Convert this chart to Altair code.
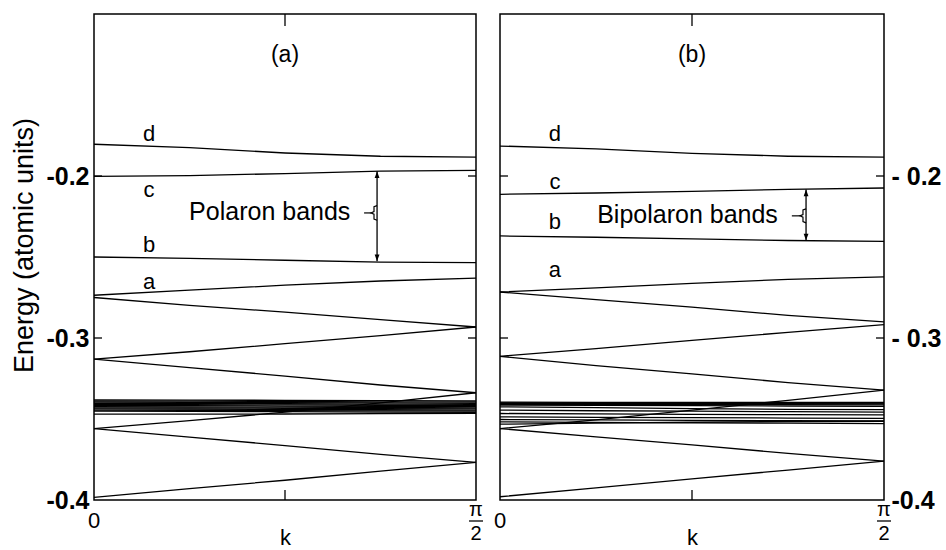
import math
import altair as alt
import pandas as pd

HALF_PI = math.pi / 2
K_FRAC = [0.0, 0.25, 0.5, 0.75, 1.0]          # fraction of pi/2

# ---------------- panel (a): polaron ----------------
A_D = [-0.1804, -0.1825, -0.1858, -0.1878, -0.1884]
A_C = [-0.2002, -0.1998, -0.1985, -0.1970, -0.1965]
A_B = [-0.2500, -0.2508, -0.2520, -0.2532, -0.2535]
A_A = [-0.2736, -0.2705, -0.2674, -0.2648, -0.2630]
A_V1 = [-0.2750, -0.2799, -0.2840, -0.2887, -0.2932]
A_V2 = [-0.3131, -0.3085, -0.3035, -0.2985, -0.2932]
A_V3 = [-0.3131, -0.3183, -0.3235, -0.3290, -0.3338]
A_V4 = [-0.3559, -0.3510, -0.3458, -0.3400, -0.3338]
A_V5 = [-0.3559, -0.3612, -0.3664, -0.3718, -0.3768]
A_V6 = [-0.3984, -0.3930, -0.3878, -0.3822, -0.3768]
A_CORE = [
    [-0.3382, -0.3383, -0.3385, -0.3387, -0.3389],
    [-0.3389, -0.3390, -0.3392, -0.3394, -0.3396],
    [-0.3396, -0.3397, -0.3399, -0.3401, -0.3403],
    [-0.3403, -0.3404, -0.3406, -0.3408, -0.3410],
    [-0.3410, -0.3411, -0.3413, -0.3415, -0.3417],
    [-0.3417, -0.3418, -0.3420, -0.3422, -0.3424],
    [-0.3424, -0.3425, -0.3427, -0.3429, -0.3431],
    [-0.3431, -0.3432, -0.3434, -0.3436, -0.3438],
    [-0.3438, -0.3439, -0.3441, -0.3443, -0.3445],
    [-0.3445, -0.3446, -0.3448, -0.3450, -0.3452],
    [-0.3452, -0.3453, -0.3455, -0.3457, -0.3459],
    [-0.3470, -0.3470, -0.3469, -0.3467, -0.3465],
]
A_LETTERS = ["d", "c", "b", "a"]
A_LETTER_K = [0.144, 0.144, 0.144, 0.144]
A_LETTER_E = [-0.1741, -0.2086, -0.2426, -0.2654]
A_NOTE = "Polaron  bands"
A_NOTE_K, A_NOTE_E = 0.249, -0.2222
A_ARROW = [0.741, -0.1971, -0.2526]            # k fraction, top, bottom
# brace beside the arrow, then the short dash pointing to the text
A_BRACE_K = [0.741, 0.733, 0.733, 0.725, 0.733, 0.733, 0.741]
A_BRACE_E = [-0.2183, -0.2190, -0.2220, -0.2228, -0.2236, -0.2266, -0.2273]
A_DASH_K = [0.707, 0.725]
A_DASH_E = [-0.2228, -0.2228]

# ---------------- panel (b): bipolaron ----------------
B_D = [-0.1815, -0.1833, -0.1860, -0.1878, -0.1884]
B_C = [-0.2113, -0.2105, -0.2095, -0.2082, -0.2074]
B_B = [-0.2370, -0.2378, -0.2388, -0.2398, -0.2403]
B_A = [-0.2716, -0.2690, -0.2663, -0.2638, -0.2623]
B_V1 = [-0.2716, -0.2763, -0.2810, -0.2860, -0.2900]
B_V2 = [-0.3113, -0.3065, -0.3015, -0.2965, -0.2917]
B_V3 = [-0.3113, -0.3170, -0.3222, -0.3275, -0.3322]
B_V4 = [-0.3559, -0.3505, -0.3445, -0.3385, -0.3322]
B_V5 = [-0.3559, -0.3610, -0.3660, -0.3712, -0.3760]
B_V6 = [-0.3980, -0.3925, -0.3870, -0.3815, -0.3760]
B_CORE = [
    [-0.3396, -0.3397, -0.3398, -0.3398, -0.3398],
    [-0.3400, -0.3401, -0.3401, -0.3402, -0.3402],
    [-0.3404, -0.3405, -0.3406, -0.3406, -0.3407],
    [-0.3409, -0.3410, -0.3411, -0.3412, -0.3413],
    [-0.3414, -0.3416, -0.3418, -0.3420, -0.3422],
    [-0.3425, -0.3430, -0.3436, -0.3440, -0.3442],
    [-0.3445, -0.3449, -0.3452, -0.3455, -0.3458],
    [-0.3466, -0.3468, -0.3471, -0.3473, -0.3475],
    [-0.3487, -0.3490, -0.3492, -0.3494, -0.3496],
    [-0.3503, -0.3506, -0.3508, -0.3510, -0.3512],
    [-0.3518, -0.3521, -0.3524, -0.3526, -0.3528],
    [-0.3532, -0.3525, -0.3520, -0.3516, -0.3514],
]
B_LETTERS = ["d", "c", "b", "a"]
B_LETTER_K = [0.143, 0.143, 0.143, 0.143]
B_LETTER_E = [-0.1741, -0.2037, -0.2284, -0.2580]
B_NOTE = "Bipolaron  bands"
B_NOTE_K, B_NOTE_E = 0.253, -0.2240
B_ARROW = [0.797, -0.2084, -0.2397]
B_BRACE_K = [0.797, 0.789, 0.789, 0.781, 0.789, 0.789, 0.797]
B_BRACE_E = [-0.2203, -0.2210, -0.2238, -0.2246, -0.2254, -0.2282, -0.2289]
B_DASH_K = [0.760, 0.781]
B_DASH_E = [-0.2246, -0.2246]

Y_TICKS = [-0.2, -0.3]
Y_LABELS = [-0.4, -0.3, -0.2]
X_MID_TICK = [0.5]

FONT = "Liberation Sans"
W_A, W_B, H = 382, 384, 486
Y_DOMAIN = [-0.4, -0.1]


def panel(bands, core, letters, lk, le, caption, note, nk, ne,
          arrow, brace_k, brace_e, dash_k, dash_e, width, side):
    rows = []
    for i, vals in enumerate(bands + core):
        for f, e in zip(K_FRAC, vals):
            rows.append({"band": i, "k": f * HALF_PI, "E": e})
    df = pd.DataFrame(rows)

    if side == "left":
        yaxis = alt.Axis(orient="left", values=Y_LABELS, ticks=False, domain=False,
                         grid=False, labelFontSize=25, labelFontWeight="bold",
                         labelFont=FONT, labelColor="black", labelPadding=5,
                         labelFlush=False, labelOverlap=False,
                         labelExpr="'-' + format(abs(datum.value), '.1f')",
                         title="Energy (atomic units)", titleFont=FONT,
                         titleFontSize=27, titleFontWeight="normal",
                         titleColor="black", titleBaseline="alphabetic",
                         titleX=-62, titleY=231)
    else:
        yaxis = alt.Axis(orient="right", values=Y_LABELS, ticks=False, domain=False,
                         grid=False, labelFontSize=25, labelFontWeight="bold",
                         labelFont=FONT, labelColor="black", labelPadding=7,
                         labelFlush=False, labelOverlap=False,
                         labelExpr="datum.value < -0.35 ? '-0.4' : '- ' + format(abs(datum.value), '.1f')",
                         title=None)
    xaxis = alt.Axis(labels=False, ticks=False, domain=False, grid=False,
                     title="k", titleFont=FONT, titleFontSize=22,
                     titleFontWeight="normal", titleColor="black", titlePadding=27)

    X = alt.X("k:Q", scale=alt.Scale(domain=[0, HALF_PI], nice=False, zero=False), axis=xaxis)
    Y = alt.Y("E:Q", scale=alt.Scale(domain=Y_DOMAIN, nice=False, zero=False), axis=yaxis)

    lines = alt.Chart(df).mark_line(color="black", strokeWidth=1.3).encode(
        x=X, y=Y, detail="band:N", order="k:Q")

    lab_df = pd.DataFrame({"k": [f * HALF_PI for f in lk], "E": le, "t": letters})
    labs = alt.Chart(lab_df).mark_text(fontSize=22, font=FONT, color="black",
                                       align="center", baseline="middle").encode(
        x=X, y=Y, text="t:N")

    cap_df = pd.DataFrame({"k": [0.5 * HALF_PI], "E": [-0.1253], "t": [caption]})
    cap = alt.Chart(cap_df).mark_text(fontSize=23, font=FONT, color="black",
                                      align="center", baseline="middle").encode(
        x=X, y=Y, text="t:N")

    note_df = pd.DataFrame({"k": [nk * HALF_PI], "E": [ne], "t": [note]})
    nt = alt.Chart(note_df).mark_text(fontSize=25, font=FONT, color="black",
                                      align="left", baseline="middle").encode(
        x=X, y=Y, text="t:N")

    arr_df = pd.DataFrame({"k": [arrow[0] * HALF_PI], "E": [arrow[1]], "E2": [arrow[2]]})
    arr = alt.Chart(arr_df).mark_rule(color="black", strokeWidth=1.3).encode(
        x=X, y=Y, y2="E2:Q")
    head_top = alt.Chart(arr_df).mark_point(
        shape="M0,0L-0.8,2.2L0.8,2.2Z", filled=True, color="black", size=36, opacity=1
    ).encode(x=X, y=Y)
    head_bot = alt.Chart(arr_df).mark_point(
        shape="M0,0L-0.8,-2.2L0.8,-2.2Z", filled=True, color="black", size=36, opacity=1
    ).encode(x=X, y=alt.Y("E2:Q", scale=alt.Scale(domain=Y_DOMAIN, nice=False, zero=False)))

    br_rows = [{"seg": 0, "i": i, "k": k * HALF_PI, "E": e}
               for i, (k, e) in enumerate(zip(brace_k, brace_e))]
    br_rows += [{"seg": 1, "i": i, "k": k * HALF_PI, "E": e}
                for i, (k, e) in enumerate(zip(dash_k, dash_e))]
    br = alt.Chart(pd.DataFrame(br_rows)).mark_line(color="black", strokeWidth=1.2).encode(
        x=X, y=Y, detail="seg:N", order="i:Q")

    yt_df = pd.DataFrame({"E": Y_TICKS})
    yt_l = alt.Chart(yt_df).mark_rule(color="black", strokeWidth=1.3).encode(
        y=Y, x=alt.value(0), x2=alt.value(8))
    yt_r = alt.Chart(yt_df).mark_rule(color="black", strokeWidth=1.3).encode(
        y=Y, x=alt.value(width - 8), x2=alt.value(width))

    xt_df = pd.DataFrame({"k": [f * HALF_PI for f in X_MID_TICK]})
    xt_top = alt.Chart(xt_df).mark_rule(color="black", strokeWidth=1.3).encode(
        x=X, y=alt.value(0), y2=alt.value(12))
    xt_bot = alt.Chart(xt_df).mark_rule(color="black", strokeWidth=1.3).encode(
        x=X, y=alt.value(H - 10), y2=alt.value(H))

    xl_df = pd.DataFrame({"k": [0.0], "t": ["0"]})
    xl0 = alt.Chart(xl_df).mark_text(fontSize=22, font=FONT, color="black",
                                     align="center", baseline="middle").encode(
        x=X, y=alt.value(H + 21), text="t:N")
    xp_df = pd.DataFrame({"k": [HALF_PI], "t": ["π"], "b": ["2"]})
    xpi = alt.Chart(xp_df).mark_text(fontSize=20, font=FONT, color="black",
                                     align="center", baseline="middle").encode(
        x=X, y=alt.value(H + 10), text="t:N")
    x2 = alt.Chart(xp_df).mark_text(fontSize=20, font=FONT, color="black",
                                    align="center", baseline="middle").encode(
        x=X, y=alt.value(H + 34), text="b:N")
    xbar = alt.Chart(xp_df).mark_rule(color="black", strokeWidth=1.3, xOffset=-7, x2Offset=7).encode(
        x=X, x2="k:Q", y=alt.value(H + 21))

    return alt.layer(lines, labs, cap, nt, arr, head_top, head_bot, br,
                     yt_l, yt_r, xt_top, xt_bot, xl0, xpi, x2, xbar).properties(
        width=width, height=H)


pa = panel([A_D, A_C, A_B, A_A, A_V1, A_V2, A_V3, A_V4, A_V5, A_V6], A_CORE,
           A_LETTERS, A_LETTER_K, A_LETTER_E, "(a)", A_NOTE, A_NOTE_K, A_NOTE_E,
           A_ARROW, A_BRACE_K, A_BRACE_E, A_DASH_K, A_DASH_E, W_A, "left")
pb = panel([B_D, B_C, B_B, B_A, B_V1, B_V2, B_V3, B_V4, B_V5, B_V6], B_CORE,
           B_LETTERS, B_LETTER_K, B_LETTER_E, "(b)", B_NOTE, B_NOTE_K, B_NOTE_E,
           B_ARROW, B_BRACE_K, B_BRACE_E, B_DASH_K, B_DASH_E, W_B, "right")

chart = alt.HConcatChart(hconcat=[pa, pb], spacing=24, bounds="flush").resolve_scale(
    y="independent").properties(
    padding={"left": 9, "top": 12, "right": 2, "bottom": 0},
    background="white",
).configure_view(stroke="black", strokeWidth=1.5).configure_axis(grid=False)

chart.save("out.html", embed_options={"renderer": "svg", "actions": False})
